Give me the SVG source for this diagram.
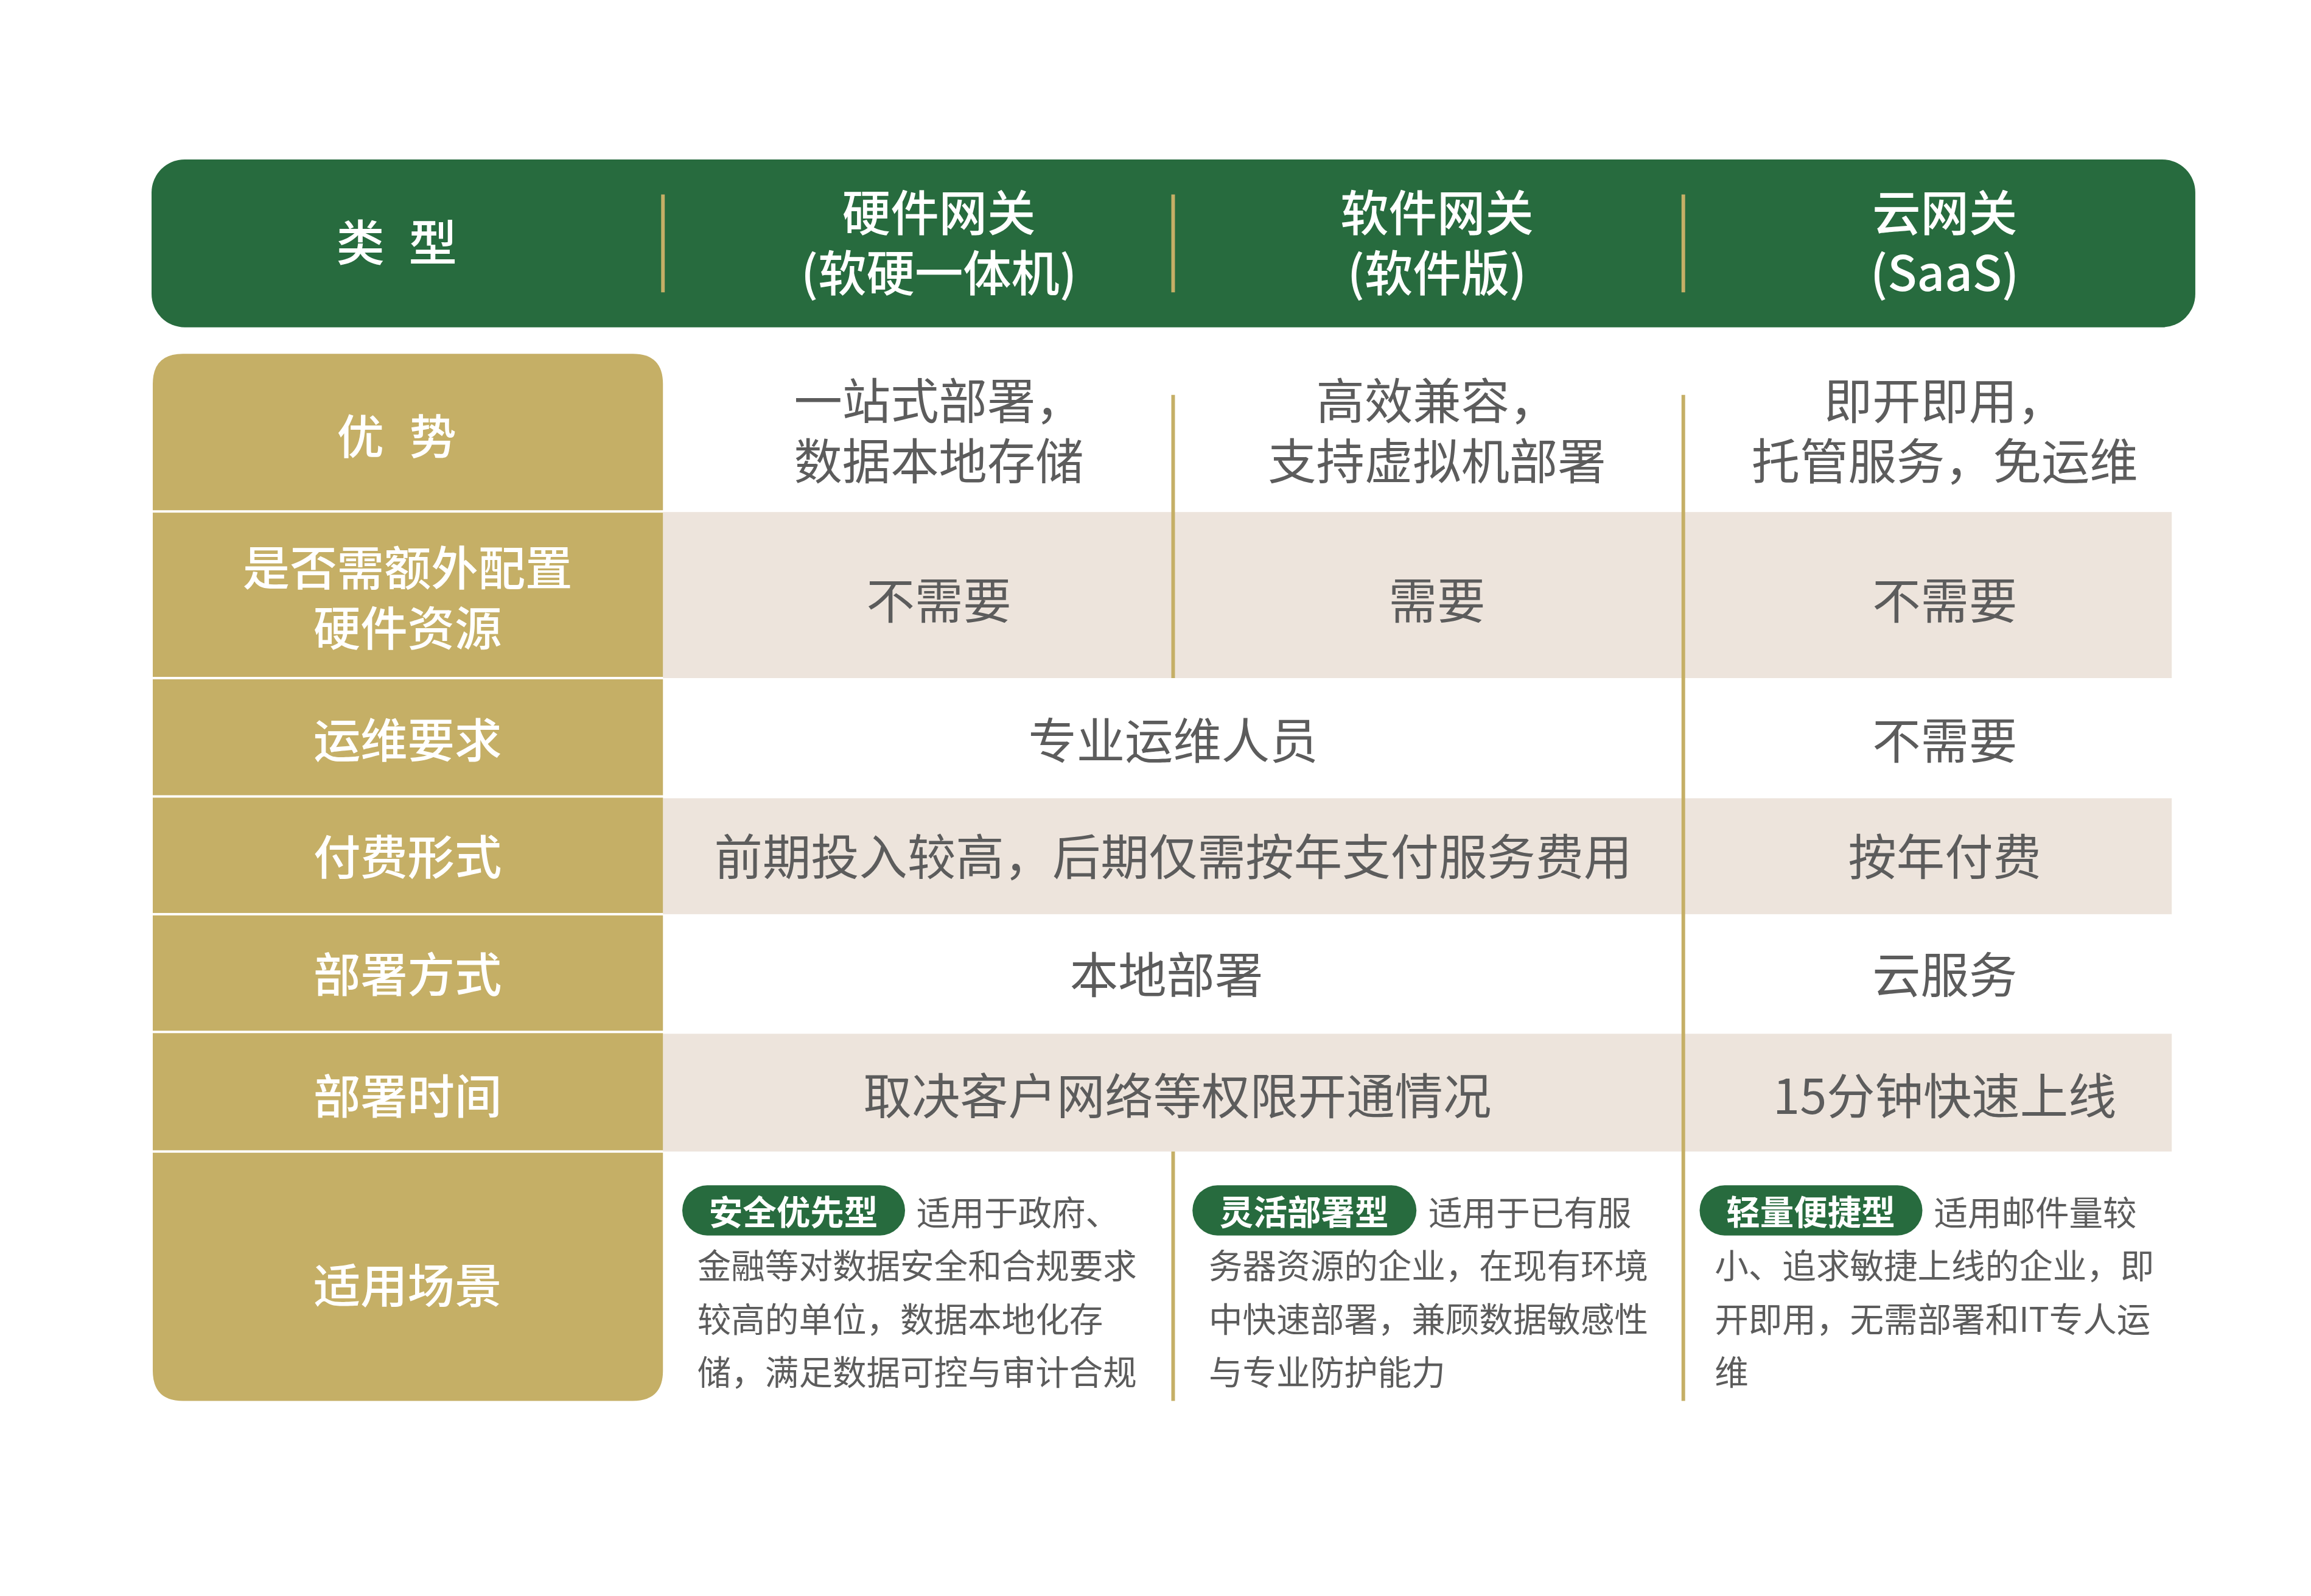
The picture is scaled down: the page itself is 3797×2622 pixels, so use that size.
<svg xmlns="http://www.w3.org/2000/svg" width="3797" height="2622" viewBox="0 0 3797 2622">
<style>
text{font-family:"Noto Sans CJK SC","Noto Sans",sans-serif;text-anchor:middle;dominant-baseline:central}
.h{fill:#fff;font-size:80px;font-weight:500}
.l{fill:#fff;font-size:78px;font-weight:500}
.b{fill:#5c5c5c;font-size:80px}
.s{fill:#5c5c5c;font-size:56px;text-anchor:start}
.p{fill:#fff;font-size:56px;font-weight:700}
.gold{fill:#c5af66}
.beige{fill:#ede4dc}
.vl{stroke:#c5af66;stroke-width:6;fill:none}
</style>
<rect width="3797" height="2622" fill="#fff"/>
<g transform="translate(2 0) scale(0.992)">
<g id="header">
<rect x="249" y="264" width="3385" height="278" rx="55" fill="#276b3e"/>
<text class="h" x="652" y="396"><tspan x="595">类</tspan><tspan x="715">型</tspan></text>
<text class="h" x="1553" y="347">硬件网关</text>
<text class="h" x="1553" y="447">(软硬一体机)</text>
<text class="h" x="2378" y="347">软件网关</text>
<text class="h" x="2378" y="447">(软件版)</text>
<text class="h" x="3219" y="347">云网关</text>
<text class="h" x="3219" y="447">(SaaS)</text>
<path class="vl" d="M1096 322V484M1941 322V484M2786 322V484"/>
</g>
<g id="rows-bg">
<rect class="beige" x="1096" y="848" width="2499" height="275"/>
<rect class="beige" x="1096" y="1322" width="2499" height="192"/>
<rect class="beige" x="1096" y="1712" width="2499" height="195"/>
</g>
<g id="labels">
<path class="gold" d="M251 636Q251 586 301 586H1046Q1096 586 1096 636V845H251Z"/>
<rect class="gold" x="251" y="849" width="845" height="272"/>
<rect class="gold" x="251" y="1125" width="845" height="192"/>
<rect class="gold" x="251" y="1321" width="845" height="191"/>
<rect class="gold" x="251" y="1516" width="845" height="191"/>
<rect class="gold" x="251" y="1711" width="845" height="194"/>
<path class="gold" d="M251 1909H1096V2270Q1096 2320 1046 2320H301Q251 2320 251 2270Z"/>
<text class="l" x="652" y="718"><tspan x="595">优</tspan><tspan x="715">势</tspan></text>
<text class="l" x="673" y="935">是否需额外配置</text>
<text class="l" x="673" y="1035">硬件资源</text>
<text class="l" x="673" y="1221">运维要求</text>
<text class="l" x="673" y="1414">付费形式</text>
<text class="l" x="673" y="1609">部署方式</text>
<text class="l" x="673" y="1810">部署时间</text>
<text class="l" x="673" y="2124">适用场景</text>
</g>
<g id="connectors">
<path class="vl" d="M1941 654V1123M2786 654V2320M1941 1907V2320"/>
</g>
<g id="cells">
<text class="b" x="1553" y="659">一站式部署，</text>
<text class="b" x="1553" y="759">数据本地存储</text>
<text class="b" x="2378" y="659">高效兼容，</text>
<text class="b" x="2378" y="759">支持虚拟机部署</text>
<text class="b" x="3219" y="659">即开即用，</text>
<text class="b" x="3219" y="759">托管服务，免运维</text>
<text class="b" x="1553" y="989">不需要</text>
<text class="b" x="2378" y="989">需要</text>
<text class="b" x="3219" y="989">不需要</text>
<text class="b" x="1941" y="1221">专业运维人员</text>
<text class="b" x="3219" y="1221">不需要</text>
<text class="b" x="1941" y="1414">前期投入较高，后期仅需按年支付服务费用</text>
<text class="b" x="3219" y="1414">按年付费</text>
<text class="b" x="1930" y="1609">本地部署</text>
<text class="b" x="3219" y="1609">云服务</text>
<text class="b" x="1948" y="1810">取决客户网络等权限开通情况</text>
<text class="b" x="3219" y="1810">15分钟快速上线</text>
</g>
<g id="scenes">
<rect x="1128" y="1963" width="369" height="83" rx="41.5" fill="#276b3e"/>
<text class="p" x="1312" y="2004">安全优先型</text>
<text class="s" x="1516" y="2005">适用于政府、</text>
<text class="s" x="1153" y="2093">金融等对数据安全和合规要求</text>
<text class="s" x="1153" y="2181">较高的单位，数据本地化存</text>
<text class="s" x="1153" y="2269">储，满足数据可控与审计合规</text>
<rect x="1973" y="1963" width="371" height="83" rx="41.5" fill="#276b3e"/>
<text class="p" x="2158" y="2004">灵活部署型</text>
<text class="s" x="2364" y="2005">适用于已有服</text>
<text class="s" x="2000" y="2093">务器资源的企业，在现有环境</text>
<text class="s" x="2000" y="2181">中快速部署，兼顾数据敏感性</text>
<text class="s" x="2000" y="2269">与专业防护能力</text>
<rect x="2813" y="1963" width="369" height="83" rx="41.5" fill="#276b3e"/>
<text class="p" x="2997" y="2004">轻量便捷型</text>
<text class="s" x="3201" y="2005">适用邮件量较</text>
<text class="s" x="2838" y="2093">小、追求敏捷上线的企业，即</text>
<text class="s" x="2838" y="2181">开即用，无需部署和IT专人运</text>
<text class="s" x="2838" y="2269">维</text>
</g>
</g>
</svg>
